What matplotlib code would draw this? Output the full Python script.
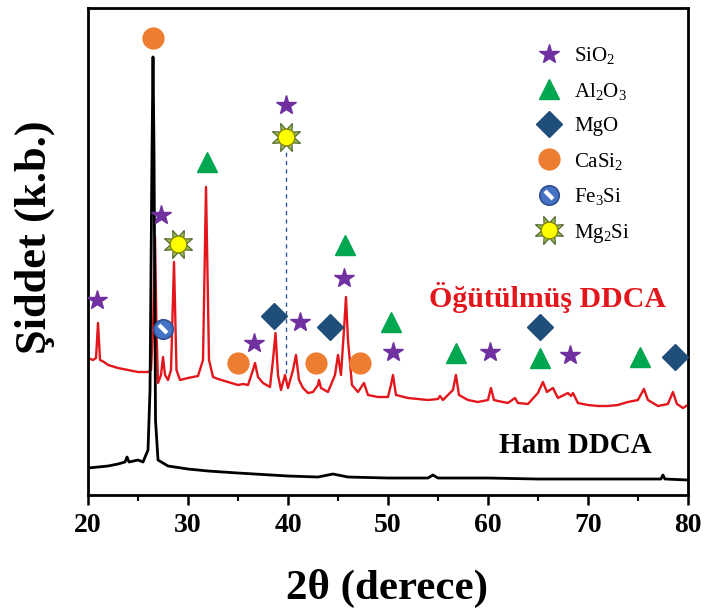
import matplotlib
matplotlib.use("Agg")
import matplotlib.pyplot as plt
from matplotlib.markers import MarkerStyle
from matplotlib.transforms import Affine2D
from matplotlib.lines import Line2D
from matplotlib.legend_handler import HandlerTuple

plt.rcParams['font.family'] = ['Liberation Serif', 'DejaVu Serif']
plt.rcParams['mathtext.fontset'] = 'custom'
plt.rcParams['mathtext.rm'] = 'Liberation Serif'
plt.rcParams['mathtext.it'] = 'Liberation Serif:italic'
plt.rcParams['mathtext.bf'] = 'Liberation Serif:bold'

# ---------------- data (intensity in arbitrary units) ----------------
ham_2theta = [20.0, 21, 22, 23, 23.7, 23.9, 24.1, 25, 25.5, 26.0, 26.2, 26.4, 26.5,
              26.6, 26.75, 27.0, 28, 30, 32, 35, 40, 43, 44.5, 46, 50, 54, 54.5,
              55, 60, 65, 70, 75, 77.3, 77.5, 77.7, 80]
ham_int = [27, 28, 29, 31, 33, 38, 33, 35, 33, 45, 105, 345, 438,
           345, 75, 35, 29, 26, 24, 22, 19, 18, 21, 18, 17, 17, 20,
           17, 17, 16, 16, 16, 16, 20, 16, 15]

milled_2theta = [20.0, 20.5, 20.8, 21.0, 21.2, 21.6, 22, 23, 24, 25, 26, 26.3, 26.5,
                 26.7, 26.85, 27.0, 27.3, 27.5, 27.7, 28.0, 28.3, 28.6, 28.85, 29.2,
                 30, 31, 31.5, 31.8, 32.1, 32.5, 33, 34, 35, 35.5, 36, 36.5, 36.7,
                 37.0, 37.5, 38.2, 38.5, 38.75, 39.0, 39.3, 39.7, 40.0, 40.5, 40.8,
                 41.1, 41.5, 42, 42.5, 43.0, 43.1, 43.3, 44, 44.7, 45.0, 45.3, 45.6,
                 45.8, 46.0, 46.4, 47, 47.4, 47.6, 48, 49, 50, 50.3, 50.5, 50.8, 52,
                 53, 54, 55, 55.2, 55.5, 56.5, 56.8, 57.1, 58, 59, 60, 60.3, 60.6, 61,
                 62, 62.7, 63, 64, 65, 65.5, 65.9, 66.5, 67, 68.0, 68.3, 68.5, 69, 70,
                 71, 72, 73, 74, 75, 75.6, 76, 77, 78, 78.5, 78.9, 79.5, 80]
milled_int = [137, 135, 137, 172, 135, 133, 130, 127, 125, 123, 123, 125, 165,
              258, 165, 112, 120, 138, 120, 115, 125, 233, 125, 115,
              117, 119, 135, 308, 135, 118, 116, 113, 110, 111, 110, 125, 132,
              118, 112, 108, 135, 162, 120, 105, 120, 107, 125, 140,
              115, 107, 102, 103, 110, 115, 107, 103, 120, 140, 120, 165,
              198, 155, 110, 103, 109, 112, 100, 98, 98, 110, 120, 100, 97,
              96, 95, 96, 99, 95, 105, 120, 100, 95, 93, 95, 107, 95, 94,
              92, 97, 92, 91, 102, 113, 103, 107, 97, 102, 99, 102, 92, 90,
              89, 89, 90, 93, 95, 106, 95, 89, 91, 103, 91, 87, 90]

# phase marker positions (2theta, marker height)
sio2_x = [20.9, 27.3, 39.8, 36.6, 41.2, 45.6, 50.5, 60.2, 68.2]
sio2_y = [195, 280, 390, 152, 173, 217, 143, 143, 140]
al2o3_x = [31.9, 45.7, 50.3, 56.8, 65.2, 75.2]
al2o3_y = [333, 250, 173, 142, 137, 138]
mgo_x = [38.6, 44.2, 65.2, 78.7]
mgo_y = [179, 168, 168, 138]
casi2_x = [26.5, 35.0, 42.8, 47.2]
casi2_y = [457, 132, 132, 132]
fe3si_x = [27.5]
fe3si_y = [166]
mg2si_x = [29.0, 39.8]
mg2si_y = [251, 358]
dashed_x = [39.8]
dashed_y = (122, 345)

legend_labels = ['SiO$_2$', 'Al$_2$O$_3$', 'MgO', 'CaSi$_2$', 'Fe$_3$Si', 'Mg$_2$Si']
xticks = [20, 30, 40, 50, 60, 70, 80]

# ---------------- colours ----------------
c_star = '#7030A0'
c_tri = '#00A650'
c_dia = '#1F4E79'
c_circ = '#ED7D31'
c_fe = '#4472C4'

fig = plt.figure(figsize=(7.07, 6.10), dpi=100)
ax = fig.add_axes([0.1245, 0.1885, 0.8485, 0.7985])

ax.plot(ham_2theta, ham_int, color='black', lw=2.0, zorder=3)
ax.plot(milled_2theta, milled_int, color='#E3161C', lw=1.7, zorder=2)
ax.vlines(dashed_x, dashed_y[0], dashed_y[1], colors='#2E5597', linestyles=(0, (3, 3)), lw=1.0)

star_kw = dict(ls='none', marker='*', ms=15, color=c_star, mec=c_star)
tri_kw = dict(ls='none', marker='^', ms=14, color=c_tri, mec=c_tri)
dia_kw = dict(ls='none', marker='D', ms=13, color=c_dia, mec=c_dia)
circ_kw = dict(ls='none', marker='o', ms=15, color=c_circ, mec=c_circ)
fe_kw = dict(ls='none', marker='o', ms=14, color=c_fe, mec='#2F4F8F', mew=1.2)
fe_slash = MarkerStyle('_', transform=Affine2D().rotate_deg(-45))
fe2_kw = dict(ls='none', marker=fe_slash, ms=9, mec='white', mew=3)
sun_ray_kw = dict(ls='none', marker=(8, 1, 22.5), ms=22, color='#9BBB59', mec='#4F6228', mew=0.8)
sun_core_kw = dict(ls='none', marker='o', ms=12, color='#FFFF00', mec='#7F7F00', mew=0.8)

ax.plot(sio2_x, sio2_y, zorder=5, **star_kw)
ax.plot(al2o3_x, al2o3_y, zorder=5, **tri_kw)
ax.plot(mgo_x, mgo_y, zorder=5, **dia_kw)
ax.plot(casi2_x, casi2_y, zorder=5, **circ_kw)
ax.plot(fe3si_x, fe3si_y, zorder=5, **fe_kw)
ax.plot(fe3si_x, fe3si_y, zorder=6, **fe2_kw)
ax.plot(mg2si_x, mg2si_y, zorder=5, **sun_ray_kw)
ax.plot(mg2si_x, mg2si_y, zorder=6, **sun_core_kw)

handles = [Line2D([], [], **star_kw), Line2D([], [], **tri_kw), Line2D([], [], **dia_kw),
           Line2D([], [], **circ_kw),
           (Line2D([], [], **fe_kw), Line2D([], [], **fe2_kw)),
           (Line2D([], [], **sun_ray_kw), Line2D([], [], **sun_core_kw))]
leg = ax.legend(handles, legend_labels, loc='upper left', bbox_to_anchor=(0.717, 0.962),
                frameon=False, fontsize=15, labelspacing=0.70, handlelength=1.2,
                handletextpad=0.6, handler_map={tuple: HandlerTuple(ndivide=1, pad=0)})

ax.text(66.0, 197, 'Öğütülmüş DDCA', color='#E3161C', fontsize=21.5, fontweight='bold',
        ha='center', va='center')
ax.text(68.7, 50, 'Ham DDCA', color='black', fontsize=21, fontweight='bold',
        ha='center', va='center')

ax.set_xlim(20, 80)
ax.set_ylim(0, 487)
ax.set_xticks(xticks)
ax.set_xticks([25, 35, 45, 55, 65, 75], minor=True)
ax.set_yticks([])
ax.tick_params(axis='x', which='major', direction='out', length=7, width=1.8,
               labelsize=20, pad=6)
ax.tick_params(axis='x', which='minor', direction='out', length=4, width=1.5)
for lab in ax.get_xticklabels():
    lab.set_fontweight('bold')
for sp in ax.spines.values():
    sp.set_linewidth(2.0)

ax.set_xlabel('2θ (derece)', fontsize=31, fontweight='bold', va='center')
ax.xaxis.set_label_coords(0.499, -0.191)
ax.set_ylabel('Şiddet (k.b.)', fontsize=32, fontweight='bold', va='center')
ax.yaxis.set_label_coords(-0.088, 0.53)

fig.savefig('out.png', dpi=100)
